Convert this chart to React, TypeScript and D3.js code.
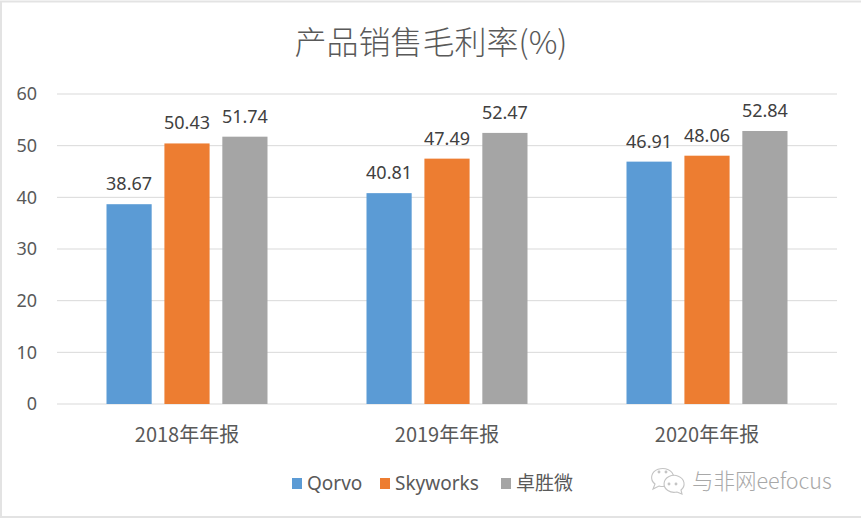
import { useRef, useEffect } from "react";
import * as d3 from "d3";

const categories = ["2018年年报", "2019年年报", "2020年年报"];
const seriesNames = ["Qorvo", "Skyworks", "卓胜微"];
const qorvo = [38.67, 40.81, 46.91];
const skyworks = [50.43, 47.49, 48.06];
const maxscend = [51.74, 52.47, 52.84];
const yTicks = [0, 10, 20, 30, 40, 50, 60];

const COLORS = ["#5b9bd5", "#ed7d31", "#a5a5a5"];
const TEXT = "#595959";
const LABEL = "#404040";
const GRID = "#d9d9d9";
const SANS = "'Noto Sans', 'Noto Sans CJK SC', sans-serif";
const CJK = "'Noto Sans CJK SC', 'Noto Sans', sans-serif";

const W = 861;
const H = 520;

export default function App() {
  const svgRef = useRef<SVGSVGElement>(null);

  useEffect(() => {
    if (!svgRef.current) return;
    const svg = d3.select(svgRef.current);
    svg.selectAll("*").remove();

    const values = [qorvo, skyworks, maxscend];

    const x = d3.scaleBand<string>().domain(categories).range([57, 837]);
    const xi = d3.scaleBand<string>().domain(seriesNames).range([-80.5, 80.5]).paddingInner(0.22);
    const y = d3.scaleLinear().domain([0, 60]).range([404, 94]);

    // frame
    svg.append("rect").attr("x", 0).attr("y", 0).attr("width", W).attr("height", H).attr("fill", "#fff");
    svg.append("path")
      .attr("d", `M1,517 L1,1.5 L${W},1.5 M0,517 L${W},517`)
      .attr("fill", "none").attr("stroke", "#e3e3e3").attr("stroke-width", 2);

    // title
    svg.append("text")
      .attr("x", 431).attr("y", 54).attr("text-anchor", "middle")
      .attr("fill", TEXT).attr("font-family", CJK).attr("font-weight", 300)
      .attr("font-size", 32).text("产品销售毛利率(%)");

    // grid
    svg.append("g").selectAll("line").data(yTicks).join("line")
      .attr("x1", 57).attr("x2", 837)
      .attr("y1", (d) => y(d)).attr("y2", (d) => y(d))
      .attr("stroke", GRID).attr("stroke-width", 1);

    svg.append("g").selectAll("text").data(yTicks).join("text")
      .attr("x", 37).attr("y", (d) => y(d)).attr("dy", "0.35em")
      .attr("text-anchor", "end").attr("fill", TEXT)
      .attr("font-family", SANS).attr("font-size", 18)
      .text((d) => d);

    // bars
    seriesNames.forEach((name, si) => {
      const g = svg.append("g");
      g.selectAll("rect").data(values[si]).join("rect")
        .attr("x", (_, i) => x(categories[i])! + x.bandwidth() / 2 + xi(name)!)
        .attr("y", (d) => y(d))
        .attr("width", xi.bandwidth())
        .attr("height", (d) => y(0) - y(d))
        .attr("fill", COLORS[si]);
      g.selectAll("text").data(values[si]).join("text")
        .attr("x", (_, i) => x(categories[i])! + x.bandwidth() / 2 + xi(name)! + xi.bandwidth() / 2)
        .attr("y", (d) => y(d) - 14)
        .attr("text-anchor", "middle").attr("fill", LABEL)
        .attr("font-family", SANS).attr("font-size", 18)
        .text((d) => d.toFixed(2));
    });

    // category labels
    svg.append("g").selectAll("text").data(categories).join("text")
      .attr("x", (d) => x(d)! + x.bandwidth() / 2).attr("y", 442)
      .attr("text-anchor", "middle").attr("fill", TEXT)
      .attr("font-family", CJK).attr("font-size", 20)
      .text((d) => d);

    // legend
    const legendX = [292, 380, 501];
    const lg = svg.append("g");
    seriesNames.forEach((name, i) => {
      lg.append("rect").attr("x", legendX[i]).attr("y", 478).attr("width", 10).attr("height", 11).attr("fill", COLORS[i]);
      lg.append("text").attr("x", legendX[i] + 15).attr("y", 490)
        .attr("fill", TEXT).attr("font-family", i === 2 ? CJK : SANS).attr("font-size", 19)
        .text(name);
    });

    // watermark
    const wm = svg.append("g").attr("fill", "#fff").attr("stroke", "#c4c4c4").attr("stroke-width", 1.1);
    wm.append("path").attr("d", "M655,484 l-2,5 l6,-3 a11,9 0 1,0 -4,-2 z");
    wm.append("path").attr("d", "M681,490 l1,4 l-5,-2 a10,8.5 0 1,1 4,-2 z");
    wm.append("circle").attr("cx", 659).attr("cy", 472).attr("r", 0.9).attr("fill", "#c4c4c4");
    wm.append("circle").attr("cx", 666).attr("cy", 472).attr("r", 0.9).attr("fill", "#c4c4c4");
    wm.append("circle").attr("cx", 669).attr("cy", 484).attr("r", 0.9).attr("fill", "#c4c4c4");
    wm.append("circle").attr("cx", 676).attr("cy", 484).attr("r", 0.9).attr("fill", "#c4c4c4");
    svg.append("text").attr("x", 692).attr("y", 489)
      .attr("fill", "#a8a8a8").attr("font-family", CJK).attr("font-weight", 300)
      .attr("font-size", 21.5).text("与非网eefocus");
  }, []);

  return (
    <>
      <style>{"body{margin:0}"}</style>
      <svg ref={svgRef} width={W} height={H} style={{ display: "block" }} />
    </>
  );
}
